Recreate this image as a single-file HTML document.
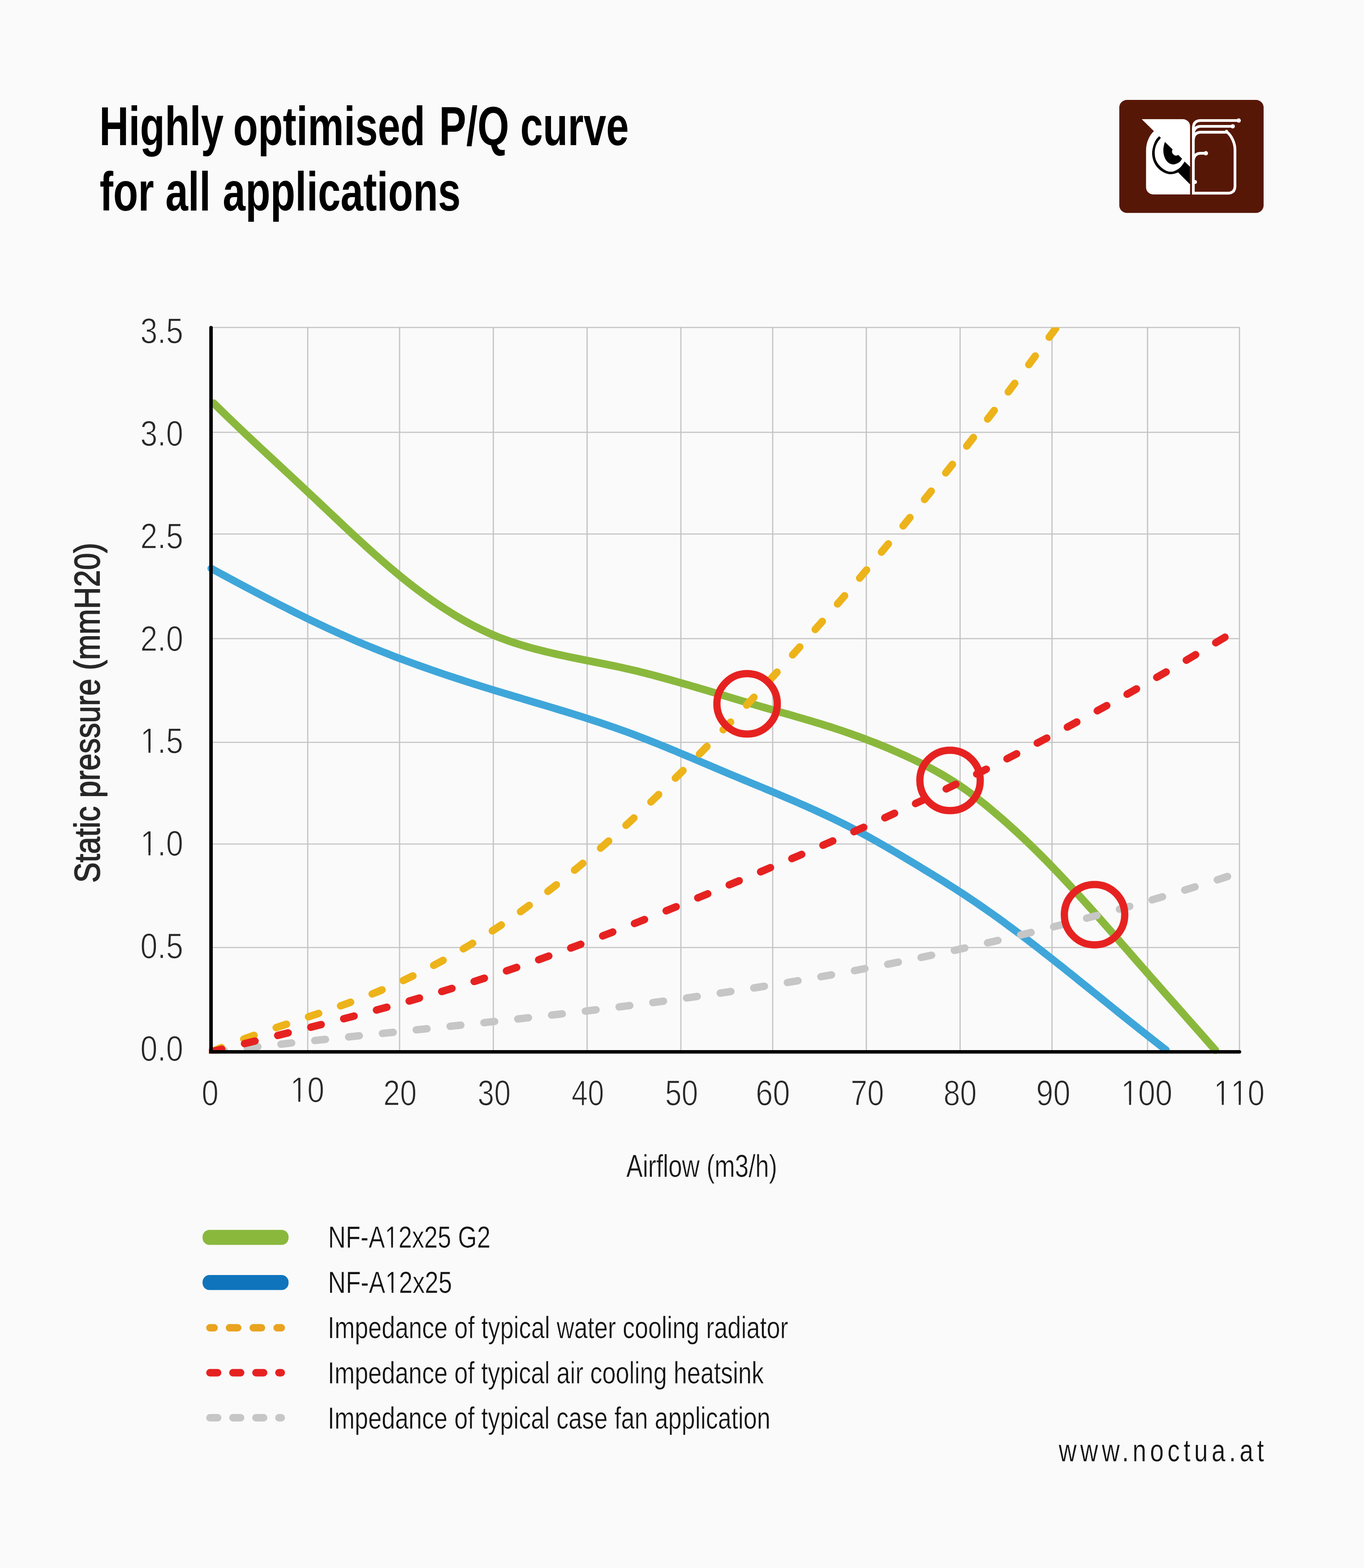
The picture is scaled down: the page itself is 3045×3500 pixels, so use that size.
<!DOCTYPE html>
<html lang="en"><head><meta charset="utf-8"><title>Highly optimised P/Q curve for all applications</title>
<style>html,body{margin:0;padding:0;background:#fafafa;}body{width:3045px;height:3500px;}svg{display:block;font-family:"Liberation Sans",sans-serif;}</style></head><body>
<svg width="3045" height="3500" viewBox="0 0 3045 3500" role="img" aria-label="Highly optimised P/Q curve for all applications">
<rect width="3045" height="3500" fill="#fafafa"/>
<g id="title">
<text transform="translate(0 324.20) scale(0.7370 1)" font-size="123.20" font-weight="bold" fill="#000"><tspan x="300.87">Highly</tspan> <tspan x="706.33">optimised</tspan> <tspan x="1330.18">P/Q</tspan> <tspan x="1576.08">curve</tspan></text>
<text transform="translate(0 470.30) scale(0.7390 1)" font-size="123.20" font-weight="bold" fill="#000"><tspan x="300.92">for</tspan> <tspan x="499.55">all</tspan> <tspan x="672.89">applications</tspan></text>
</g>
<g id="logo">
<rect x="2498.7" y="223.1" width="322.2" height="252.1" rx="17" ry="17" fill="#571706"/>
<g transform="translate(2540 255) scale(0.092233)">
<path d="M95,118 H1090 A175,175 0 0 1 1265,293 V1940 H372 A172,172 0 0 1 200,1768 V880 C200,690 275,520 390,410 Z" fill="#fff"/>
</g>
<g transform="translate(2560 290) scale(0.061384)" fill="#000">
<path d="M450,230 C430,253 365,312 330,370 C295,428 262,503 240,580 C218,657 197,747 195,830 C193,913 208,1003 230,1080 C252,1157 285,1225 330,1290 C375,1355 438,1422 500,1470 C562,1518 638,1557 700,1580 C762,1603 817,1608 870,1610 C923,1612 975,1601 1020,1590 C1065,1579 1120,1552 1140,1545 L1575,1980 V1340 L1375,1150 C1366,1165 1349,1202 1320,1240 C1291,1278 1250,1338 1200,1380 C1150,1422 1075,1467 1020,1490 C965,1513 920,1520 870,1520 C820,1520 772,1512 720,1490 C668,1468 612,1433 560,1390 C508,1347 450,1287 410,1230 C370,1173 340,1117 320,1050 C300,983 290,902 290,830 C290,758 302,685 320,620 C338,555 368,495 400,440 C432,385 496,315 515,290 Z"/>
<path d="M665,440 L940,710 A148,148 0 0 0 1145,910 L1285,1045 C1271,1064 1239,1128 1200,1160 C1161,1192 1095,1225 1050,1240 C1005,1255 972,1257 930,1250 C888,1243 840,1228 800,1200 C760,1172 720,1130 690,1080 C660,1030 634,963 620,900 C606,837 602,767 605,700 C608,633 630,543 640,500 C650,457 661,450 665,440 Z"/>
</g>
<g transform="translate(2650 255) scale(0.092233)" fill="none" stroke="#fff" stroke-width="66" stroke-linecap="round" stroke-linejoin="round">
<path d="M1250,152 H335 Q152,152 152,335 V1910 H985 Q1160,1910 1160,1735 V860 C1160,700 1080,520 960,425" stroke-linejoin="miter"/>
<path d="M1105,292 H335 Q165,292 152,480"/>
<path d="M960,435 H335 Q165,435 152,620"/>
<path d="M455,945 H335 Q165,945 152,1125"/>
<g fill="#fff" stroke="none"><circle cx="1250" cy="152" r="52"/><circle cx="1105" cy="292" r="52"/><circle cx="455" cy="945" r="52"/><circle cx="190" cy="1640" r="50"/><circle cx="955" cy="412" r="36"/></g>
</g>
</g>
<g id="grid" stroke="#c4c4c4" stroke-width="2.7" fill="none">
<path d="M687.0,729.6 V2347.8 M892.0,729.6 V2347.8 M1101.3,729.6 V2347.8 M1310.7,729.6 V2347.8 M1520.0,729.6 V2347.8 M1725.0,729.6 V2347.8 M1934.0,729.6 V2347.8 M2143.3,729.6 V2347.8 M2348.5,729.6 V2347.8 M2561.8,729.6 V2347.8 M2767.0,729.6 V2347.8 M471.1,731.0 H2768.3 M471.1,965.0 H2768.3 M471.1,1192.0 H2768.3 M471.1,1425.5 H2768.3 M471.1,1657.0 H2768.3 M471.1,1884.0 H2768.3 M471.1,2115.0 H2768.3"/>
</g>
<defs><clipPath id="plot"><rect x="400" y="731.0" width="2500" height="1700"/></clipPath><clipPath id="plot2"><rect x="466.4" y="731.0" width="2500" height="1620.7"/></clipPath></defs>
<g id="curves" clip-path="url(#plot)" fill="none" stroke-linecap="round" stroke-linejoin="round">
<path d="M477.0,900.0 C480.3,903.3 490.3,913.1 497.0,919.6 C503.7,926.1 510.3,932.5 517.0,938.9 C523.7,945.3 530.3,951.7 537.0,958.0 C543.7,964.3 550.3,970.6 557.0,976.9 C563.7,983.1 570.3,989.4 577.0,995.6 C583.7,1001.8 590.3,1008.0 597.0,1014.2 C603.7,1020.4 610.3,1026.6 617.0,1032.8 C623.7,1039.0 630.3,1045.2 637.0,1051.4 C643.7,1057.5 650.3,1063.7 657.0,1069.9 C663.7,1076.1 670.3,1082.4 677.0,1088.6 C683.7,1094.8 690.3,1101.1 697.0,1107.4 C703.7,1113.6 710.3,1119.9 717.0,1126.2 C723.7,1132.5 730.3,1138.8 737.0,1145.1 C743.7,1151.4 750.3,1157.7 757.0,1164.0 C763.7,1170.3 770.3,1176.5 777.0,1182.7 C783.7,1189.0 790.3,1195.2 797.0,1201.3 C803.7,1207.5 810.3,1213.6 817.0,1219.6 C823.7,1225.7 830.3,1231.7 837.0,1237.6 C843.7,1243.5 850.3,1249.4 857.0,1255.1 C863.7,1260.9 870.3,1266.6 877.0,1272.2 C883.7,1277.8 890.3,1283.4 897.0,1288.8 C903.7,1294.2 910.3,1299.5 917.0,1304.7 C923.7,1309.9 930.3,1315.0 937.0,1320.0 C943.7,1325.0 950.3,1329.8 957.0,1334.6 C963.7,1339.4 970.3,1344.0 977.0,1348.5 C983.7,1353.0 990.3,1357.4 997.0,1361.7 C1003.7,1366.0 1010.3,1370.1 1017.0,1374.1 C1023.7,1378.1 1030.3,1382.0 1037.0,1385.7 C1043.7,1389.5 1050.3,1393.1 1057.0,1396.6 C1063.7,1400.0 1070.3,1403.3 1077.0,1406.5 C1083.7,1409.7 1090.3,1412.7 1097.0,1415.6 C1103.7,1418.5 1110.3,1421.2 1117.0,1423.8 C1123.7,1426.3 1130.3,1428.8 1137.0,1431.1 C1143.7,1433.4 1150.3,1435.6 1157.0,1437.7 C1163.7,1439.8 1170.3,1441.8 1177.0,1443.7 C1183.7,1445.6 1190.3,1447.4 1197.0,1449.2 C1203.7,1450.9 1210.3,1452.6 1217.0,1454.2 C1223.7,1455.8 1230.3,1457.4 1237.0,1458.9 C1243.7,1460.4 1250.3,1461.9 1257.0,1463.3 C1263.7,1464.8 1270.3,1466.2 1277.0,1467.6 C1283.7,1468.9 1290.3,1470.3 1297.0,1471.6 C1303.7,1473.0 1310.3,1474.3 1317.0,1475.6 C1323.7,1477.0 1330.3,1478.3 1337.0,1479.6 C1343.7,1481.0 1350.3,1482.3 1357.0,1483.7 C1363.7,1485.0 1370.3,1486.4 1377.0,1487.8 C1383.7,1489.2 1390.3,1490.7 1397.0,1492.2 C1403.7,1493.7 1410.3,1495.2 1417.0,1496.8 C1423.7,1498.3 1430.3,1500.0 1437.0,1501.7 C1443.7,1503.3 1450.3,1505.1 1457.0,1506.8 C1463.7,1508.6 1470.3,1510.4 1477.0,1512.2 C1483.7,1514.0 1490.3,1515.9 1497.0,1517.7 C1503.7,1519.6 1510.3,1521.5 1517.0,1523.4 C1523.7,1525.3 1530.3,1527.3 1537.0,1529.2 C1543.7,1531.1 1550.3,1533.1 1557.0,1535.0 C1563.7,1537.0 1570.3,1539.0 1577.0,1540.9 C1583.7,1542.9 1590.3,1544.9 1597.0,1546.9 C1603.7,1548.9 1610.3,1550.9 1617.0,1552.8 C1623.7,1554.8 1630.3,1556.8 1637.0,1558.8 C1643.7,1560.8 1650.3,1562.8 1657.0,1564.8 C1663.7,1566.7 1670.3,1568.7 1677.0,1570.7 C1683.7,1572.7 1690.3,1574.6 1697.0,1576.6 C1703.7,1578.5 1710.3,1580.5 1717.0,1582.4 C1723.7,1584.3 1730.3,1586.2 1737.0,1588.1 C1743.7,1590.1 1750.3,1591.9 1757.0,1593.8 C1763.7,1595.8 1770.3,1597.6 1777.0,1599.6 C1783.7,1601.5 1790.3,1603.4 1797.0,1605.4 C1803.7,1607.3 1810.3,1609.3 1817.0,1611.3 C1823.7,1613.3 1830.3,1615.3 1837.0,1617.4 C1843.7,1619.4 1850.3,1621.6 1857.0,1623.7 C1863.7,1625.9 1870.3,1628.1 1877.0,1630.3 C1883.7,1632.5 1890.3,1634.8 1897.0,1637.1 C1903.7,1639.5 1910.3,1641.9 1917.0,1644.3 C1923.7,1646.7 1930.3,1649.2 1937.0,1651.8 C1943.7,1654.3 1950.3,1656.9 1957.0,1659.5 C1963.7,1662.2 1970.3,1664.9 1977.0,1667.7 C1983.7,1670.5 1990.3,1673.3 1997.0,1676.2 C2003.7,1679.1 2010.3,1682.1 2017.0,1685.1 C2023.7,1688.1 2030.3,1691.2 2037.0,1694.4 C2043.7,1697.6 2050.3,1700.8 2057.0,1704.2 C2063.7,1707.5 2070.3,1710.9 2077.0,1714.5 C2083.7,1718.0 2090.3,1721.7 2097.0,1725.5 C2103.7,1729.2 2110.3,1733.2 2117.0,1737.2 C2123.7,1741.3 2130.3,1745.5 2137.0,1749.9 C2143.7,1754.4 2150.3,1758.9 2157.0,1763.7 C2163.7,1768.5 2170.3,1773.4 2177.0,1778.5 C2183.7,1783.6 2190.3,1788.8 2197.0,1794.2 C2203.7,1799.5 2210.3,1805.0 2217.0,1810.7 C2223.7,1816.3 2230.3,1822.0 2237.0,1827.8 C2243.7,1833.7 2250.3,1839.6 2257.0,1845.6 C2263.7,1851.6 2270.3,1857.7 2277.0,1863.9 C2283.7,1870.1 2290.3,1876.4 2297.0,1882.8 C2303.7,1889.2 2310.3,1895.8 2317.0,1902.4 C2323.7,1909.0 2330.3,1915.7 2337.0,1922.5 C2343.7,1929.3 2350.3,1936.2 2357.0,1943.2 C2363.7,1950.2 2370.3,1957.3 2377.0,1964.4 C2383.7,1971.5 2390.3,1978.7 2397.0,1986.0 C2403.7,1993.2 2410.3,2000.6 2417.0,2007.9 C2423.7,2015.3 2430.3,2022.7 2437.0,2030.2 C2443.7,2037.7 2450.3,2045.2 2457.0,2052.7 C2463.7,2060.2 2470.3,2067.8 2477.0,2075.4 C2483.7,2083.0 2490.3,2090.6 2497.0,2098.2 C2503.7,2105.9 2510.3,2113.5 2517.0,2121.1 C2523.7,2128.8 2530.3,2136.4 2537.0,2144.1 C2543.7,2151.7 2550.3,2159.3 2557.0,2166.9 C2563.7,2174.6 2570.3,2182.1 2577.0,2189.7 C2583.7,2197.3 2590.3,2204.9 2597.0,2212.4 C2603.7,2220.0 2610.3,2227.5 2617.0,2235.0 C2623.7,2242.6 2630.3,2250.1 2637.0,2257.7 C2643.7,2265.2 2650.3,2272.7 2657.0,2280.3 C2663.7,2287.8 2670.3,2295.4 2677.0,2302.9 C2683.7,2310.5 2690.9,2318.7 2697.0,2325.6 C2703.1,2332.5 2710.7,2341.2 2713.4,2344.3" stroke="#8ab83d" stroke-width="17"/>
<path d="M471.4,1268.9 C474.7,1270.7 484.7,1276.1 491.4,1279.7 C498.1,1283.3 504.7,1286.9 511.4,1290.5 C518.1,1294.1 524.7,1297.6 531.4,1301.2 C538.1,1304.8 544.7,1308.3 551.4,1311.8 C558.1,1315.4 564.7,1318.9 571.4,1322.4 C578.1,1325.9 584.7,1329.4 591.4,1332.9 C598.1,1336.3 604.7,1339.8 611.4,1343.2 C618.1,1346.6 624.7,1350.0 631.4,1353.4 C638.1,1356.8 644.7,1360.2 651.4,1363.5 C658.1,1366.8 664.7,1370.1 671.4,1373.4 C678.1,1376.7 684.7,1380.0 691.4,1383.2 C698.1,1386.4 704.7,1389.6 711.4,1392.8 C718.1,1395.9 724.7,1399.1 731.4,1402.2 C738.1,1405.3 744.7,1408.3 751.4,1411.4 C758.1,1414.4 764.7,1417.4 771.4,1420.3 C778.1,1423.3 784.7,1426.2 791.4,1429.1 C798.1,1431.9 804.7,1434.8 811.4,1437.6 C818.1,1440.4 824.7,1443.1 831.4,1445.8 C838.1,1448.6 844.7,1451.2 851.4,1453.9 C858.1,1456.5 864.7,1459.2 871.4,1461.7 C878.1,1464.3 884.7,1466.9 891.4,1469.4 C898.1,1471.9 904.7,1474.4 911.4,1476.8 C918.1,1479.3 924.7,1481.7 931.4,1484.1 C938.1,1486.5 944.7,1488.9 951.4,1491.2 C958.1,1493.6 964.7,1495.9 971.4,1498.2 C978.1,1500.5 984.7,1502.7 991.4,1505.0 C998.1,1507.2 1004.7,1509.5 1011.4,1511.7 C1018.1,1513.9 1024.7,1516.0 1031.4,1518.2 C1038.1,1520.4 1044.7,1522.5 1051.4,1524.6 C1058.1,1526.7 1064.7,1528.8 1071.4,1530.9 C1078.1,1533.0 1084.7,1535.1 1091.4,1537.1 C1098.1,1539.2 1104.7,1541.2 1111.4,1543.2 C1118.1,1545.3 1124.7,1547.3 1131.4,1549.3 C1138.1,1551.3 1144.7,1553.3 1151.4,1555.3 C1158.1,1557.2 1164.7,1559.2 1171.4,1561.2 C1178.1,1563.2 1184.7,1565.2 1191.4,1567.2 C1198.1,1569.1 1204.7,1571.1 1211.4,1573.1 C1218.1,1575.1 1224.7,1577.1 1231.4,1579.1 C1238.1,1581.1 1244.7,1583.1 1251.4,1585.2 C1258.1,1587.2 1264.7,1589.2 1271.4,1591.3 C1278.1,1593.4 1284.7,1595.4 1291.4,1597.5 C1298.1,1599.6 1304.7,1601.8 1311.4,1603.9 C1318.1,1606.0 1324.7,1608.2 1331.4,1610.4 C1338.1,1612.6 1344.7,1614.8 1351.4,1617.1 C1358.1,1619.3 1364.7,1621.6 1371.4,1623.9 C1378.1,1626.3 1384.7,1628.6 1391.4,1631.0 C1398.1,1633.4 1404.7,1635.8 1411.4,1638.3 C1418.1,1640.8 1424.7,1643.3 1431.4,1645.9 C1438.1,1648.4 1444.7,1651.0 1451.4,1653.7 C1458.1,1656.3 1464.7,1658.9 1471.4,1661.6 C1478.1,1664.3 1484.7,1667.1 1491.4,1669.8 C1498.1,1672.5 1504.7,1675.3 1511.4,1678.1 C1518.1,1680.9 1524.7,1683.7 1531.4,1686.5 C1538.1,1689.3 1544.7,1692.1 1551.4,1694.9 C1558.1,1697.7 1564.7,1700.6 1571.4,1703.4 C1578.1,1706.2 1584.7,1709.1 1591.4,1711.9 C1598.1,1714.7 1604.7,1717.6 1611.4,1720.4 C1618.1,1723.2 1624.7,1726.0 1631.4,1728.8 C1638.1,1731.6 1644.7,1734.3 1651.4,1737.1 C1658.1,1739.9 1664.7,1742.6 1671.4,1745.4 C1678.1,1748.2 1684.7,1750.9 1691.4,1753.7 C1698.1,1756.4 1704.7,1759.2 1711.4,1762.0 C1718.1,1764.8 1724.7,1767.6 1731.4,1770.4 C1738.1,1773.2 1744.7,1776.0 1751.4,1778.8 C1758.1,1781.7 1764.7,1784.5 1771.4,1787.4 C1778.1,1790.3 1784.7,1793.2 1791.4,1796.1 C1798.1,1799.0 1804.7,1802.0 1811.4,1805.0 C1818.1,1808.0 1824.7,1811.0 1831.4,1814.1 C1838.1,1817.2 1844.7,1820.3 1851.4,1823.5 C1858.1,1826.6 1864.7,1829.8 1871.4,1833.1 C1878.1,1836.4 1884.7,1839.7 1891.4,1843.0 C1898.1,1846.4 1904.7,1849.8 1911.4,1853.3 C1918.1,1856.8 1924.7,1860.3 1931.4,1863.9 C1938.1,1867.5 1944.7,1871.2 1951.4,1874.9 C1958.1,1878.6 1964.7,1882.4 1971.4,1886.3 C1978.1,1890.1 1984.7,1894.0 1991.4,1897.9 C1998.1,1901.8 2004.7,1905.7 2011.4,1909.7 C2018.1,1913.7 2024.7,1917.7 2031.4,1921.7 C2038.1,1925.7 2044.7,1929.7 2051.4,1933.7 C2058.1,1937.8 2064.7,1941.8 2071.4,1945.9 C2078.1,1949.9 2084.7,1954.0 2091.4,1958.1 C2098.1,1962.2 2104.7,1966.4 2111.4,1970.6 C2118.1,1974.8 2124.7,1979.0 2131.4,1983.3 C2138.1,1987.6 2144.7,1991.9 2151.4,1996.3 C2158.1,2000.7 2164.7,2005.1 2171.4,2009.6 C2178.1,2014.1 2184.7,2018.7 2191.4,2023.3 C2198.1,2027.9 2204.7,2032.6 2211.4,2037.3 C2218.1,2042.0 2224.7,2046.8 2231.4,2051.6 C2238.1,2056.4 2244.7,2061.3 2251.4,2066.2 C2258.1,2071.1 2264.7,2076.1 2271.4,2081.1 C2278.1,2086.1 2284.7,2091.1 2291.4,2096.2 C2298.1,2101.3 2304.7,2106.4 2311.4,2111.5 C2318.1,2116.7 2324.7,2121.9 2331.4,2127.1 C2338.1,2132.3 2344.7,2137.5 2351.4,2142.8 C2358.1,2148.1 2364.7,2153.3 2371.4,2158.6 C2378.1,2163.9 2384.7,2169.3 2391.4,2174.6 C2398.1,2179.9 2404.7,2185.3 2411.4,2190.7 C2418.1,2196.0 2424.7,2201.4 2431.4,2206.8 C2438.1,2212.2 2444.7,2217.5 2451.4,2222.9 C2458.1,2228.3 2464.7,2233.7 2471.4,2239.1 C2478.1,2244.5 2484.7,2249.9 2491.4,2255.2 C2498.1,2260.6 2504.7,2266.0 2511.4,2271.3 C2518.1,2276.7 2524.7,2282.0 2531.4,2287.3 C2538.1,2292.7 2544.7,2298.0 2551.4,2303.2 C2558.1,2308.5 2564.7,2313.8 2571.4,2319.0 C2578.1,2324.3 2586.1,2330.6 2591.4,2334.7 C2596.7,2338.8 2601.1,2342.1 2603.0,2343.6" stroke="#3fa6da" stroke-width="16.6"/>
</g>
<g id="impedance" clip-path="url(#plot2)">
<path d="M476.5,2347.6 Q488.4,2346.2 500.3,2344.8 M551.9,2339.0 Q563.8,2337.7 575.7,2336.4 M627.3,2330.7 Q639.2,2329.4 651.1,2328.1 M702.8,2322.6 Q714.7,2321.3 726.6,2320.1 M778.3,2314.6 Q790.2,2313.4 802.1,2312.1 M853.8,2306.7 Q865.7,2305.5 877.7,2304.2 M929.3,2298.8 Q941.3,2297.5 953.2,2296.3 M1004.9,2290.8 Q1016.8,2289.5 1028.7,2288.3 M1080.4,2282.7 Q1092.3,2281.4 1104.2,2280.1 M1155.9,2274.4 Q1167.8,2273.1 1179.7,2271.7 M1231.4,2265.8 Q1243.3,2264.4 1255.2,2263.0 M1306.8,2256.9 Q1318.7,2255.5 1330.6,2254.0 M1382.1,2247.6 Q1394.0,2246.1 1405.9,2244.6 M1457.4,2237.9 Q1469.3,2236.3 1481.2,2234.7 M1532.7,2227.6 Q1544.5,2225.9 1556.4,2224.2 M1607.8,2216.8 Q1619.7,2215.0 1631.5,2213.2 M1682.8,2205.2 Q1694.7,2203.4 1706.5,2201.5 M1757.8,2193.1 Q1769.6,2191.1 1781.4,2189.1 M1832.6,2180.2 Q1844.4,2178.1 1856.2,2176.0 M1907.3,2166.6 Q1919.1,2164.4 1930.8,2162.1 M1981.8,2152.3 Q1993.6,2149.9 2005.4,2147.6 M2056.2,2137.2 Q2068.0,2134.7 2079.7,2132.2 M2130.5,2121.3 Q2142.2,2118.7 2153.9,2116.1 M2204.6,2104.6 Q2216.2,2101.9 2227.9,2099.2 M2278.5,2087.1 Q2290.1,2084.3 2301.8,2081.4 M2352.2,2068.8 Q2363.8,2065.8 2375.4,2062.8 M2425.7,2049.6 Q2437.3,2046.5 2448.8,2043.4 M2499.0,2029.5 Q2510.5,2026.3 2522.1,2023.0 M2572.0,2008.6 Q2583.5,2005.2 2595.1,2001.8 M2644.9,1986.7 Q2656.3,1983.2 2667.8,1979.6 M2717.5,1963.9 Q2728.9,1960.2 2740.3,1956.5" fill="none" stroke="#c6c6c6" stroke-width="16.6" stroke-linecap="round"/>
<path d="M471.5,2347.8 Q482.9,2343.0 494.4,2338.4 M544.1,2319.4 Q555.5,2315.2 567.0,2311.1 M616.6,2293.9 Q628.0,2290.0 639.5,2286.2 M688.8,2269.7 Q700.1,2265.9 711.4,2262.1 M760.3,2245.2 Q771.5,2241.2 782.7,2237.1 M830.8,2218.6 Q841.9,2214.2 852.9,2209.5 M900.2,2188.6 Q911.0,2183.6 921.8,2178.3 M968.1,2154.9 Q978.7,2149.3 989.2,2143.6 M1034.4,2117.9 Q1044.8,2111.8 1055.1,2105.5 M1099.1,2077.8 Q1109.2,2071.2 1119.2,2064.6 M1162.0,2035.0 Q1171.7,2028.0 1181.4,2020.9 M1223.1,1989.7 Q1232.6,1982.4 1242.0,1975.0 M1282.6,1942.3 Q1291.9,1934.7 1301.1,1927.0 M1340.7,1893.1 Q1349.8,1885.2 1358.8,1877.2 M1397.5,1842.2 Q1406.3,1834.1 1415.1,1825.9 M1453.1,1790.1 Q1461.8,1781.8 1470.4,1773.5 M1507.7,1737.0 Q1516.2,1728.6 1524.7,1720.1 M1561.4,1683.2 Q1569.8,1674.7 1578.2,1666.1 M1614.4,1628.9 Q1622.7,1620.3 1631.0,1611.7 M1666.7,1574.0 Q1674.9,1565.2 1683.1,1556.4 M1718.4,1518.2 Q1726.5,1509.3 1734.6,1500.4 M1769.4,1461.8 Q1777.5,1452.9 1785.4,1444.0 M1819.9,1405.1 Q1827.8,1396.1 1835.7,1387.1 M1869.7,1348.0 Q1877.6,1339.0 1885.4,1329.9 M1919.1,1290.5 Q1926.8,1281.4 1934.5,1272.2 M1967.8,1232.4 Q1975.5,1223.2 1983.1,1214.0 M2016.1,1173.9 Q2023.7,1164.6 2031.3,1155.3 M2063.9,1114.9 Q2071.4,1105.6 2078.9,1096.2 M2111.3,1055.5 Q2118.7,1046.0 2126.2,1036.6 M2158.2,995.6 Q2165.6,986.1 2173.0,976.6 M2204.8,935.3 Q2212.1,925.8 2219.4,916.2 M2250.9,874.8 Q2258.2,865.2 2265.4,855.6 M2296.7,813.9 Q2304.0,804.2 2311.1,794.6 M2342.2,752.7 Q2349.4,743.1 2356.5,733.4" fill="none" stroke="#edb31a" stroke-width="16.6" stroke-linecap="round"/>
<path d="M471.5,2347.7 Q483.3,2344.9 495.0,2342.0 M545.9,2329.5 Q557.6,2326.6 569.3,2323.8 M620.0,2311.3 Q631.6,2308.4 643.3,2305.5 M693.8,2292.9 Q705.4,2289.9 717.0,2287.0 M767.3,2274.0 Q778.9,2271.0 790.4,2268.0 M840.5,2254.6 Q852.0,2251.5 863.6,2248.3 M913.5,2234.4 Q924.9,2231.1 936.4,2227.8 M986.1,2213.2 Q997.6,2209.7 1009.0,2206.3 M1058.5,2190.8 Q1069.9,2187.2 1081.3,2183.5 M1130.7,2167.1 Q1142.0,2163.3 1153.4,2159.4 M1202.5,2142.2 Q1213.8,2138.1 1225.1,2134.0 M1274.1,2116.1 Q1285.4,2111.9 1296.6,2107.7 M1345.4,2089.1 Q1356.6,2084.8 1367.9,2080.4 M1416.4,2061.4 Q1427.6,2056.9 1438.8,2052.5 M1487.2,2033.0 Q1498.4,2028.5 1509.5,2024.0 M1557.7,2004.2 Q1568.9,1999.7 1580.0,1995.1 M1628.0,1975.2 Q1639.1,1970.6 1650.1,1966.0 M1698.0,1946.0 Q1709.0,1941.3 1720.0,1936.7 M1767.7,1916.5 Q1778.7,1911.9 1789.7,1907.2 M1837.2,1886.7 Q1848.1,1882.0 1859.1,1877.2 M1906.4,1856.4 Q1917.3,1851.6 1928.2,1846.7 M1975.3,1825.4 Q1986.2,1820.4 1997.0,1815.4 M2043.9,1793.6 Q2054.8,1788.5 2065.6,1783.4 M2112.3,1761.0 Q2123.1,1755.8 2133.8,1750.6 M2180.4,1727.7 Q2191.1,1722.4 2201.8,1717.0 M2248.1,1693.6 Q2258.8,1688.1 2269.5,1682.6 M2315.6,1658.6 Q2326.2,1653.1 2336.8,1647.5 M2382.8,1623.0 Q2393.4,1617.3 2403.9,1611.6 M2449.6,1586.6 Q2460.2,1580.8 2470.7,1575.0 M2516.2,1549.6 Q2526.7,1543.7 2537.1,1537.7 M2582.4,1511.9 Q2592.9,1505.9 2603.3,1499.9 M2648.4,1473.6 Q2658.8,1467.5 2669.1,1461.4 M2714.0,1434.7 Q2724.3,1428.6 2734.6,1422.4" fill="none" stroke="#e62221" stroke-width="16.6" stroke-linecap="round"/>
</g>
<g id="markers" fill="none" stroke="#e62221" stroke-width="16.2">
<circle cx="1667.8" cy="1571.1" r="67.4"/>
<circle cx="2120.9" cy="1742.0" r="67.4"/>
<circle cx="2443.5" cy="2041.7" r="67.4"/>
</g>
<path id="axes" d="M471.1,731.5 V2347.8 H2767.0" fill="none" stroke="#000" stroke-width="7.8" stroke-linecap="round" stroke-linejoin="miter"/>
<g id="yticks">
<text transform="translate(313.26 766.10) scale(0.8588 1)" font-size="80.20" font-weight="normal" fill="#272727" stroke="#fafafa" stroke-width="1.50" stroke-linejoin="round">3.5</text>
<text transform="translate(313.26 994.90) scale(0.8588 1)" font-size="80.20" font-weight="normal" fill="#272727" stroke="#fafafa" stroke-width="1.50" stroke-linejoin="round">3.0</text>
<text transform="translate(313.26 1223.70) scale(0.8588 1)" font-size="80.20" font-weight="normal" fill="#272727" stroke="#fafafa" stroke-width="1.50" stroke-linejoin="round">2.5</text>
<text transform="translate(313.26 1452.50) scale(0.8588 1)" font-size="80.20" font-weight="normal" fill="#272727" stroke="#fafafa" stroke-width="1.50" stroke-linejoin="round">2.0</text>
<g transform="translate(313.26 1681.30) scale(0.8588 1)"><text font-size="80.20" font-weight="normal" fill="#272727" style="font-kerning:none" stroke="#fafafa" stroke-width="1.50" stroke-linejoin="round">1.5</text><path d="M5.48,1.50 h15.69 v-8.99 h-15.69 z M26.26,1.50 h15.25 v-8.99 h-15.25 z" fill="#fafafa"/></g>
<g transform="translate(313.26 1910.10) scale(0.8588 1)"><text font-size="80.20" font-weight="normal" fill="#272727" style="font-kerning:none" stroke="#fafafa" stroke-width="1.50" stroke-linejoin="round">1.0</text><path d="M5.48,1.50 h15.69 v-8.99 h-15.69 z M26.26,1.50 h15.25 v-8.99 h-15.25 z" fill="#fafafa"/></g>
<text transform="translate(313.26 2138.90) scale(0.8588 1)" font-size="80.20" font-weight="normal" fill="#272727" stroke="#fafafa" stroke-width="1.50" stroke-linejoin="round">0.5</text>
<text transform="translate(313.26 2367.70) scale(0.8588 1)" font-size="80.20" font-weight="normal" fill="#272727" stroke="#fafafa" stroke-width="1.50" stroke-linejoin="round">0.0</text>
</g>
<g id="xticks">
<text transform="translate(450.26 2466.60) scale(0.8433 1)" font-size="80.20" font-weight="normal" fill="#272727" stroke="#fafafa" stroke-width="1.50" stroke-linejoin="round">0</text>
<g transform="translate(647.92 2459.80) scale(0.8533 1)"><text font-size="80.20" font-weight="normal" fill="#272727" style="font-kerning:none" stroke="#fafafa" stroke-width="1.50" stroke-linejoin="round">10</text><path d="M5.48,1.50 h15.69 v-8.99 h-15.69 z M26.26,1.50 h15.25 v-8.99 h-15.25 z" fill="#fafafa"/></g>
<text transform="translate(855.83 2466.60) scale(0.8343 1)" font-size="80.20" font-weight="normal" fill="#272727" stroke="#fafafa" stroke-width="1.50" stroke-linejoin="round">20</text>
<text transform="translate(1066.33 2466.60) scale(0.8261 1)" font-size="80.20" font-weight="normal" fill="#272727" stroke="#fafafa" stroke-width="1.50" stroke-linejoin="round">30</text>
<text transform="translate(1276.09 2466.60) scale(0.8101 1)" font-size="80.20" font-weight="normal" fill="#272727" stroke="#fafafa" stroke-width="1.50" stroke-linejoin="round">40</text>
<text transform="translate(1484.73 2466.60) scale(0.8261 1)" font-size="80.20" font-weight="normal" fill="#272727" stroke="#fafafa" stroke-width="1.50" stroke-linejoin="round">50</text>
<text transform="translate(1686.91 2466.60) scale(0.8592 1)" font-size="80.20" font-weight="normal" fill="#272727" stroke="#fafafa" stroke-width="1.50" stroke-linejoin="round">60</text>
<text transform="translate(1899.03 2466.60) scale(0.8343 1)" font-size="80.20" font-weight="normal" fill="#272727" stroke="#fafafa" stroke-width="1.50" stroke-linejoin="round">70</text>
<text transform="translate(2106.21 2466.60) scale(0.8322 1)" font-size="80.20" font-weight="normal" fill="#272727" stroke="#fafafa" stroke-width="1.50" stroke-linejoin="round">80</text>
<text transform="translate(2312.91 2466.60) scale(0.8592 1)" font-size="80.20" font-weight="normal" fill="#272727" stroke="#fafafa" stroke-width="1.50" stroke-linejoin="round">90</text>
<g transform="translate(2502.47 2466.60) scale(0.8580 1)"><text font-size="80.20" font-weight="normal" fill="#272727" style="font-kerning:none" stroke="#fafafa" stroke-width="1.50" stroke-linejoin="round">100</text><path d="M5.48,1.50 h15.69 v-8.99 h-15.69 z M26.26,1.50 h15.25 v-8.99 h-15.25 z" fill="#fafafa"/></g>
<g transform="translate(2709.55 2466.60) scale(0.8498 1)"><text font-size="80.20" font-weight="normal" fill="#272727" style="font-kerning:none" stroke="#fafafa" stroke-width="1.50" stroke-linejoin="round">110</text><path d="M5.48,1.50 h15.69 v-8.99 h-15.69 z M26.26,1.50 h15.25 v-8.99 h-15.25 z M50.09,1.50 h15.69 v-8.99 h-15.69 z M70.86,1.50 h15.25 v-8.99 h-15.25 z" fill="#fafafa"/></g>
</g>
<g id="axis-titles">
<text transform="translate(1398.26 2627.00) scale(0.7842 1)" font-size="69.60" font-weight="normal" fill="#161616" stroke="#fafafa" stroke-width="0.60" stroke-linejoin="round">Airflow (m3/h)</text>
<text transform="translate(221.60 1970.44) rotate(-90) scale(0.8647 1)" font-size="79.00" font-weight="normal" fill="#272727" stroke="#272727" stroke-width="1.80" stroke-linejoin="round">Static pressure (mmH20)</text>
</g>
<g id="legend">
<rect x="452.2" y="2745.3" width="192" height="33.5" rx="15.6" fill="#8ab83d"/>
<rect x="452.2" y="2846.1" width="192" height="33.5" rx="15.6" fill="#1074bc"/>
<rect x="460.3" y="2955.5" width="25.9" height="16.6" rx="8.3" fill="#e9a31f"/>
<rect x="504.0" y="2955.5" width="34.8" height="16.6" rx="8.3" fill="#e9a31f"/>
<rect x="557.1" y="2955.5" width="34.9" height="16.6" rx="8.3" fill="#e9a31f"/>
<rect x="610.3" y="2955.5" width="25.9" height="16.6" rx="8.3" fill="#e9a31f"/>
<rect x="460.3" y="3055.8" width="33.9" height="16.6" rx="8.3" fill="#e62221"/>
<rect x="511.6" y="3055.8" width="33.9" height="16.6" rx="8.3" fill="#e62221"/>
<rect x="563.0" y="3055.8" width="33.9" height="16.6" rx="8.3" fill="#e62221"/>
<rect x="614.3" y="3055.8" width="21.9" height="16.6" rx="8.3" fill="#e62221"/>
<rect x="460.3" y="3156.3" width="33.9" height="16.6" rx="8.3" fill="#c6c6c6"/>
<rect x="511.6" y="3156.3" width="33.9" height="16.6" rx="8.3" fill="#c6c6c6"/>
<rect x="563.0" y="3156.3" width="33.9" height="16.6" rx="8.3" fill="#c6c6c6"/>
<rect x="614.3" y="3156.3" width="21.9" height="16.6" rx="8.3" fill="#c6c6c6"/>
<g transform="translate(732.38 2785.40) scale(0.7845 1)"><text font-size="69.30" font-weight="normal" fill="#111" style="font-kerning:none" stroke="#fafafa" stroke-width="0.70" stroke-linejoin="round">NF-A12x25 G2</text><path d="M166.41,1.50 h13.29 v-8.18 h-13.29 z M184.63,1.50 h12.92 v-8.18 h-12.92 z" fill="#fafafa"/></g>
<g transform="translate(732.34 2886.25) scale(0.7903 1)"><text font-size="69.30" font-weight="normal" fill="#111" style="font-kerning:none" stroke="#fafafa" stroke-width="0.70" stroke-linejoin="round">NF-A12x25</text><path d="M166.41,1.50 h13.29 v-8.18 h-13.29 z M184.63,1.50 h12.92 v-8.18 h-12.92 z" fill="#fafafa"/></g>
<text transform="translate(731.86 2987.10) scale(0.7803 1)" font-size="69.30" font-weight="normal" fill="#111" stroke="#fafafa" stroke-width="0.70" stroke-linejoin="round">Impedance of typical water cooling radiator</text>
<text transform="translate(731.86 3087.95) scale(0.7799 1)" font-size="69.30" font-weight="normal" fill="#111" stroke="#fafafa" stroke-width="0.70" stroke-linejoin="round">Impedance of typical air cooling heatsink</text>
<text transform="translate(731.86 3188.80) scale(0.7796 1)" font-size="69.30" font-weight="normal" fill="#111" stroke="#fafafa" stroke-width="0.70" stroke-linejoin="round">Impedance of typical case fan application</text>
</g>
<text transform="translate(2363.40 3262.40) scale(0.7867 1)" font-size="70.20" font-weight="normal" fill="#111" stroke="#fafafa" stroke-width="0.50" stroke-linejoin="round" letter-spacing="10.50">www.noctua.at</text>
</svg></body></html>
